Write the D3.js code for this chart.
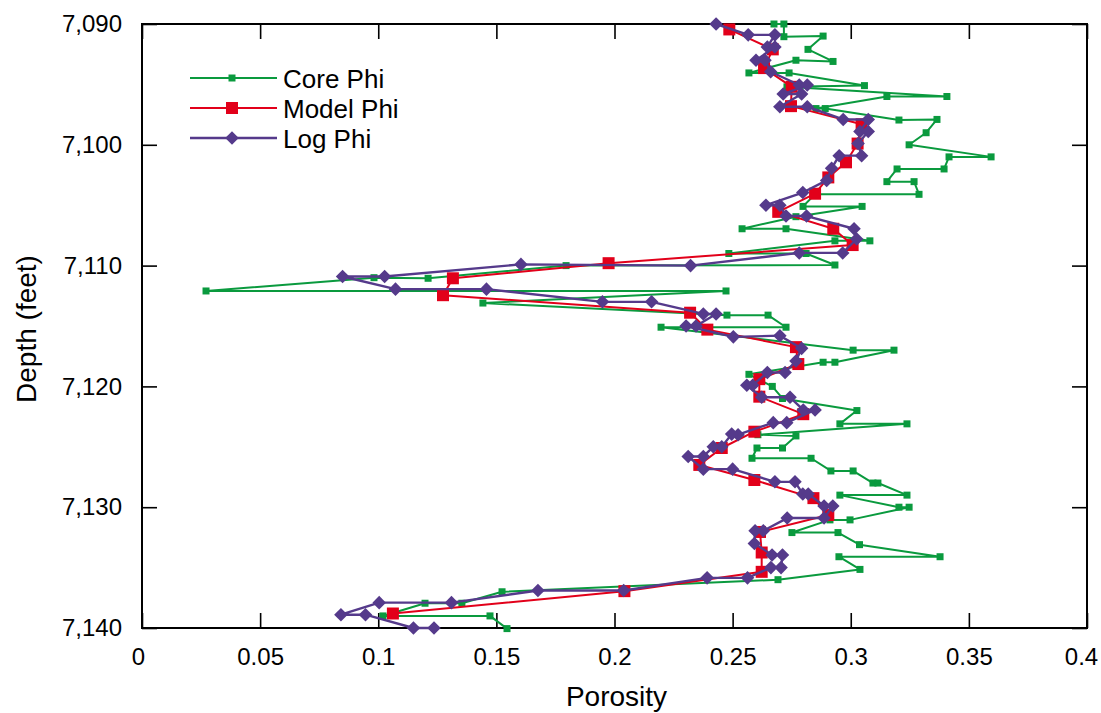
<!DOCTYPE html>
<html>
<head>
<meta charset="utf-8">
<script src="https://cdn.jsdelivr.net/npm/d3@7"></script>
<style>
  html, body { margin: 0; padding: 0; background: #fff; }
  svg { display: block; font-family: "Liberation Sans", Arial, sans-serif; }
</style>
</head>
<body>
<svg id="chart" width="1101" height="713"></svg>
<script>
// ---- data: [depth (ft), porosity] ----
const corePhi = [
  [7090.0,0.2675],[7090.0,0.2717],[7091.05,0.2717],[7091.0,0.2883],[7092.1,0.2819],
  [7093.1,0.2925],[7093.0,0.2768],[7094.05,0.2569],[7094.05,0.2739],[7095.1,0.3058],
  [7095.2,0.2730],[7096.0,0.3407],[7096.0,0.3153],[7097.0,0.2853],[7097.0,0.2892],
  [7097.95,0.3204],[7097.9,0.3365],[7099.0,0.3319],[7100.0,0.3247],[7101.0,0.3594],
  [7101.0,0.3416],[7102.0,0.3395],[7102.0,0.3196],[7103.05,0.3153],[7103.05,0.3268],
  [7104.1,0.3289],[7104.1,0.2849],[7105.1,0.2798],[7105.1,0.3048],[7105.95,0.2768],
  [7106.95,0.2540],[7106.95,0.2726],[7107.95,0.3081],[7107.95,0.2933],[7109.0,0.2484],
  [7109.0,0.2811],[7109.95,0.2933],[7110.0,0.1795],[7111.05,0.1211],[7111.0,0.0982],
  [7112.1,0.0271],[7112.1,0.2472],[7113.1,0.1443],[7114.1,0.2476],[7114.1,0.2650],
  [7115.1,0.2726],[7115.1,0.2197],[7117.0,0.3010],[7117.0,0.3183],[7118.0,0.2933],
  [7118.0,0.2883],[7119.0,0.2569],[7120.0,0.2668],[7121.0,0.2711],[7122.0,0.3026],
  [7123.1,0.2954],[7123.1,0.3238],[7124.0,0.2607],[7124.1,0.2768],[7125.1,0.2711],
  [7125.1,0.2603],[7125.95,0.2582],[7125.95,0.2832],[7127.0,0.2916],[7127.0,0.3010],
  [7128.0,0.3094],[7128.0,0.3115],[7129.0,0.3238],[7129.0,0.2954],[7130.0,0.3204],
  [7130.0,0.3247],[7131.05,0.2997],[7131.05,0.2912],[7132.1,0.2751],[7132.1,0.2946],
  [7133.1,0.3037],[7134.1,0.3378],[7134.1,0.2950],[7135.15,0.3039],[7136.0,0.2692],
  [7137.0,0.1524],[7137.95,0.1354],[7137.95,0.1198],[7139.0,0.1020],[7139.0,0.1473],
  [7140.05,0.1545]
];
const modelPhi = [
  [7090.45,0.2486],[7092.1,0.2670],[7093.65,0.2633],[7095.2,0.2750],[7096.8,0.2747],
  [7098.3,0.3046],[7099.9,0.3029],[7101.45,0.2980],[7102.7,0.2905],[7104.05,0.2849],
  [7105.55,0.2693],[7106.95,0.2926],[7108.3,0.3008],[7109.8,0.1975],[7111.05,0.1316],
  [7112.45,0.1274],[7113.9,0.2320],[7115.3,0.2393],[7116.75,0.2768],[7118.15,0.2778],
  [7119.4,0.2613],[7120.85,0.2613],[7122.3,0.2799],[7123.75,0.2592],[7125.1,0.2454],
  [7126.5,0.2359],[7127.75,0.2592],[7129.25,0.2842],[7130.65,0.2905],[7132.05,0.2616],
  [7133.75,0.2623],[7135.35,0.2623],[7136.95,0.2042],[7138.8,0.1062]
];
const logPhi = [
  [7090.0,0.2430],[7090.9,0.2566],[7090.9,0.2679],[7091.9,0.2647],[7091.9,0.2679],
  [7093.0,0.2599],[7093.0,0.2637],[7093.95,0.2661],[7095.05,0.2782],[7095.05,0.2816],
  [7095.8,0.2714],[7095.8,0.2792],[7096.85,0.2700],[7096.85,0.2816],[7097.9,0.2968],
  [7097.9,0.3074],[7098.9,0.3039],[7098.9,0.3074],[7099.9,0.3031],[7100.9,0.3046],
  [7100.9,0.2951],[7101.95,0.2919],[7102.95,0.2898],[7103.95,0.2797],[7105.0,0.2641],
  [7105.0,0.2700],[7105.9,0.2726],[7105.9,0.2813],[7106.95,0.3014],[7107.8,0.3025],
  [7108.95,0.2966],[7108.95,0.2782],[7110.0,0.2322],[7109.9,0.1604],[7110.9,0.1027],
  [7110.9,0.0849],[7111.95,0.1073],[7111.95,0.1458],[7113.0,0.1949],[7113.0,0.2157],
  [7114.0,0.2376],[7114.0,0.2430],[7115.0,0.2345],[7115.0,0.2303],[7115.9,0.2503],
  [7115.8,0.2700],[7116.85,0.2792],[7117.9,0.2768],[7118.85,0.2722],[7118.85,0.2647],
  [7119.9,0.2585],[7119.9,0.2560],[7120.9,0.2623],[7120.9,0.2743],[7121.95,0.2799],
  [7121.95,0.2849],[7123.0,0.2729],[7123.0,0.2672],[7124.0,0.2523],[7123.95,0.2496],
  [7125.0,0.2454],[7125.0,0.2418],[7125.8,0.2376],[7125.8,0.2312],[7126.85,0.2376],
  [7126.85,0.2500],[7127.9,0.2679],[7127.9,0.2764],[7128.9,0.2797],[7128.9,0.2820],
  [7129.9,0.2887],[7129.9,0.2924],[7130.9,0.2887],[7130.9,0.2731],[7131.95,0.2630],
  [7131.95,0.2595],[7133.0,0.2592],[7133.95,0.2667],[7133.95,0.2711],[7135.0,0.2705],
  [7135.0,0.2662],[7135.85,0.2563],[7135.85,0.2392],[7136.9,0.2039],[7136.9,0.1676],
  [7137.9,0.1310],[7137.9,0.1004],[7138.9,0.0842],[7138.9,0.0946],[7140.0,0.1149],
  [7140.0,0.1236]
];
const xTicks = [0, 0.05, 0.1, 0.15, 0.2, 0.25, 0.3, 0.35, 0.4];
const yTicks = [7090, 7100, 7110, 7120, 7130, 7140];
const seriesNames = ["Core Phi", "Model Phi", "Log Phi"];
const seriesColors = ["#0a9a3e", "#e2001a", "#553a8b"];
const xTitle = "Porosity";
const yTitle = "Depth (feet)";

// ---- layout ----
const L = 142, R = 1087, T = 24, B = 628;
const svg = d3.select("#chart");
const x = d3.scaleLinear().domain([0, 0.4]).range([L, R]);
const y = d3.scaleLinear().domain([7090, 7140]).range([T, B]);

// frame
svg.append("rect").attr("x", L).attr("y", T).attr("width", R - L).attr("height", B - T)
  .attr("fill", "none").attr("stroke", "#000").attr("stroke-width", 2);

function styleAxis(g, showLabels) {
  g.select(".domain").remove();
  g.selectAll(".tick line").attr("stroke", "#000").attr("stroke-width", 1.6);
  g.selectAll(".tick text").attr("fill", "#000").style("font-size", "24px")
    .style("font-family", '"Liberation Sans", Arial, sans-serif');
  if (!showLabels) g.selectAll(".tick text").remove();
}
svg.append("g").attr("transform", `translate(0,${B})`)
  .call(d3.axisBottom(x).tickValues(xTicks).tickSize(-15).tickPadding(20).tickFormat(d3.format("")))
  .call(g => styleAxis(g, true))
  .call(g => {
    // first and last labels nudged to sit inside the page, as in the reference
    g.selectAll(".tick text").filter(d => d === 0).attr("dx", -4);
    g.selectAll(".tick text").filter(d => d === 0.4).attr("dx", -6);
  });
svg.append("g").attr("transform", `translate(0,${T})`)
  .call(d3.axisTop(x).tickValues(xTicks).tickSize(-15))
  .call(g => styleAxis(g, false));
svg.append("g").attr("transform", `translate(${L},0)`)
  .call(d3.axisLeft(y).tickValues(yTicks).tickSize(-15).tickPadding(20).tickFormat(d3.format(",")))
  .call(g => styleAxis(g, true));
svg.append("g").attr("transform", `translate(${R},0)`)
  .call(d3.axisRight(y).tickValues(yTicks).tickSize(-15))
  .call(g => styleAxis(g, false));

// axis titles
svg.append("text").attr("x", (L + R) / 2 + 2).attr("y", 706).attr("text-anchor", "middle")
  .style("font-size", "28px").text(xTitle);
svg.append("text").attr("transform", `translate(36,${(T + B) / 2 + 3}) rotate(-90)`)
  .attr("text-anchor", "middle").style("font-size", "28px").text(yTitle);

// marker shapes
const markers = [
  d3.symbol().type(d3.symbolSquare).size(49),
  d3.symbol().type(d3.symbolSquare).size(144),
  d3.symbol().type(d3.symbolSquare).size(92)
];
const rotations = [0, 0, 45];
const widths = [2, 2, 2.4];
const allSeries = [corePhi, modelPhi, logPhi];

const line = d3.line().x(d => x(d[1])).y(d => y(d[0]));
allSeries.forEach((data, i) => {
  const g = svg.append("g");
  g.append("path").datum(data).attr("d", line).attr("fill", "none")
    .attr("stroke", seriesColors[i]).attr("stroke-width", widths[i]).attr("stroke-linejoin", "round");
  g.selectAll("path.m").data(data).join("path").attr("class", "m")
    .attr("d", markers[i]())
    .attr("transform", d => `translate(${x(d[1])},${y(d[0])}) rotate(${rotations[i]})`)
    .attr("fill", seriesColors[i]);
});

// legend
const legY = [78, 108, 138];
const legend = svg.append("g");
seriesNames.forEach((name, i) => {
  legend.append("line").attr("x1", 190).attr("x2", 277).attr("y1", legY[i]).attr("y2", legY[i])
    .attr("stroke", seriesColors[i]).attr("stroke-width", widths[i]);
  legend.append("path").attr("d", markers[i]())
    .attr("transform", `translate(232,${legY[i]}) rotate(${rotations[i]})`)
    .attr("fill", seriesColors[i]);
  legend.append("text").attr("x", 283).attr("y", legY[i] + 9.5)
    .style("font-size", "26px").text(name);
});
</script>
</body>
</html>
